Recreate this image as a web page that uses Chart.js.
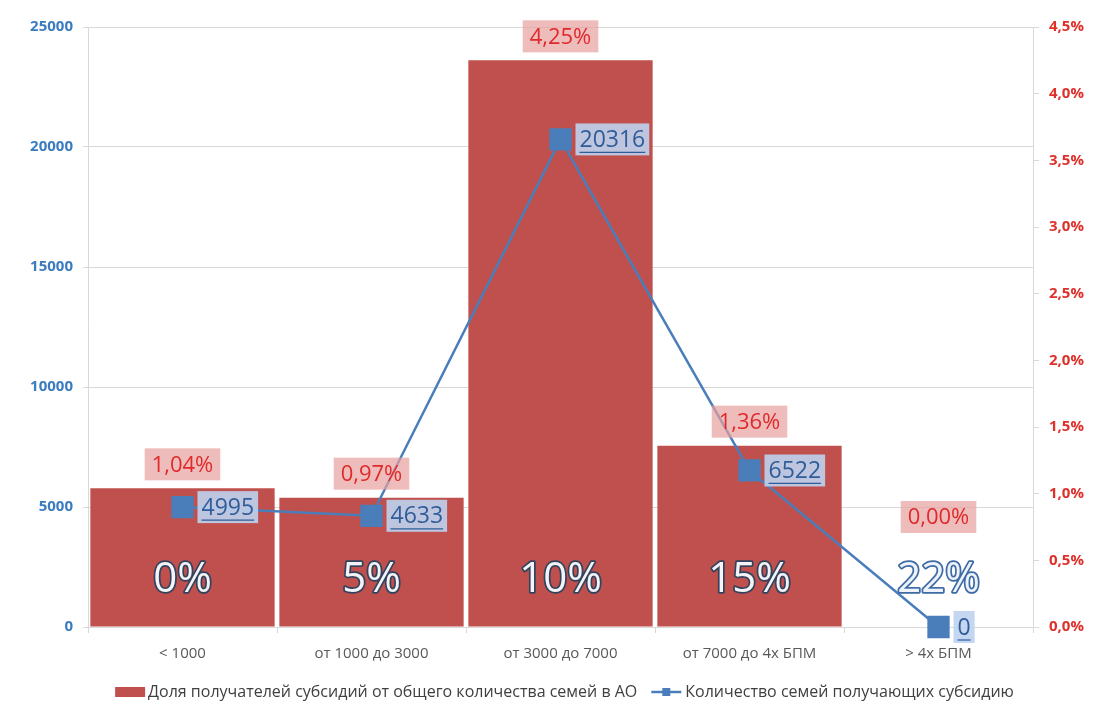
<!DOCTYPE html>
<html>
<head>
<meta charset="utf-8">
<script src="https://cdn.jsdelivr.net/npm/chart.js@4"></script>
<style>
  html, body { margin: 0; padding: 0; background: #fff; }
</style>
</head>
<body>
<canvas id="chart" width="1094" height="711"></canvas>
<script>
const categories = ["< 1000", "от 1000 до 3000", "от 3000 до 7000", "от 7000 до 4х БПМ", "> 4х БПМ"];
const shareValues = [1.04, 0.97, 4.25, 1.36, 0.0];
const familyCounts = [4995, 4633, 20316, 6522, 0];
const rateLabels = ["0%", "5%", "10%", "15%", "22%"];
const shareName = "Доля получателей субсидий от общего количества семей в АО";
const countName = "Количество семей получающих субсидию";

const FONT = '"Open Sans", "Noto Sans", sans-serif';
const BAR_RED = "#c0504d";
const LINE_BLUE = "#4a7ebb";

const fmtPct = (v, d) => v.toFixed(d).replace(".", ",") + "%";

function boxLabel(ctx, text, x, y, align, size, padX, bg, color, underline) {
  ctx.font = size + "px " + FONT;
  const w = ctx.measureText(text).width;
  const bw = w + padX * 2, bh = 32;
  const left = align === "center" ? x - bw / 2 : x;
  ctx.fillStyle = bg;
  ctx.fillRect(left, y - bh / 2, bw, bh);
  ctx.fillStyle = color;
  ctx.textAlign = "left";
  ctx.textBaseline = "middle";
  ctx.fillText(text, left + padX, y + 1);
  if (underline) {
    ctx.strokeStyle = color;
    ctx.lineWidth = 1.2;
    ctx.beginPath();
    ctx.moveTo(left + padX, y + 13);
    ctx.lineTo(left + padX + w, y + 13);
    ctx.stroke();
  }
}

const labelPlugin = {
  id: "valueLabels",
  afterDatasetsDraw(chart) {
    const ctx = chart.ctx;
    const area = chart.chartArea;
    const bars = chart.getDatasetMeta(1).data;
    const pts = chart.getDatasetMeta(0).data;
    ctx.save();

    // big rate labels inside the bars
    bars.forEach((bar, i) => {
      const empty = bar.base - bar.y < 60;
      ctx.font = "42px " + FONT;
      ctx.textAlign = "center";
      ctx.textBaseline = "middle";
      ctx.lineJoin = "round";
      ctx.lineWidth = 3.5;
      ctx.strokeStyle = empty ? "#3d6ba6" : "#33435e";
      ctx.strokeText(rateLabels[i], bar.x, area.bottom - 47);
      ctx.fillStyle = empty ? "#eef3fa" : "#f4f4f8";
      ctx.fillText(rateLabels[i], bar.x, area.bottom - 47);
    });

    // share labels above bars
    bars.forEach((bar, i) => {
      const y = Math.min(bar.y - 24, area.bottom - 110);
      boxLabel(ctx, fmtPct(shareValues[i], 2), bar.x, y, "center", 22, 7,
        "rgba(232,160,160,0.7)", "#e02a2a", false);
    });

    // count labels right of points
    pts.forEach((p, i) => {
      boxLabel(ctx, String(familyCounts[i]), p.x + 15, p.y, "left", 23, 4,
        "rgba(190,210,238,0.9)", "#2f5d9a", true);
    });
    ctx.restore();
  },
  afterDraw(chart) {
    const ctx = chart.ctx;
    const area = chart.chartArea;
    const y = 692;
    ctx.save();
    ctx.font = "16px " + FONT;
    const w1 = ctx.measureText(shareName).width;
    const w2 = ctx.measureText(countName).width;
    const total = 30 + 3 + w1 + 14 + 30 + 4 + w2;
    let x = (area.left + area.right) / 2 + 4 - total / 2;
    ctx.fillStyle = BAR_RED;
    ctx.fillRect(x, y - 5, 30, 10);
    x += 33;
    ctx.fillStyle = "#404040";
    ctx.textAlign = "left";
    ctx.textBaseline = "middle";
    ctx.fillText(shareName, x, y);
    x += w1 + 14;
    ctx.strokeStyle = LINE_BLUE;
    ctx.lineWidth = 2.5;
    ctx.beginPath();
    ctx.moveTo(x, y);
    ctx.lineTo(x + 30, y);
    ctx.stroke();
    ctx.fillStyle = LINE_BLUE;
    ctx.fillRect(x + 11, y - 4, 8, 8);
    x += 34;
    ctx.fillStyle = "#404040";
    ctx.fillText(countName, x, y);
    ctx.restore();
  }
};

new Chart(document.getElementById("chart").getContext("2d"), {
  data: {
    labels: categories,
    datasets: [
      {
        type: "line",
        label: countName,
        data: familyCounts,
        yAxisID: "y",
        borderColor: LINE_BLUE,
        borderWidth: 2.5,
        backgroundColor: LINE_BLUE,
        pointStyle: "rect",
        pointRadius: 14,
        pointBackgroundColor: LINE_BLUE,
        pointBorderColor: LINE_BLUE,
        tension: 0,
        clip: false,
        order: 0,
      },
      {
        type: "bar",
        label: shareName,
        data: shareValues,
        yAxisID: "y1",
        backgroundColor: BAR_RED,
        barPercentage: 0.975,
        categoryPercentage: 1,
        order: 1,
      },
    ],
  },
  options: {
    responsive: false,
    animation: false,
    layout: { padding: { top: 27, bottom: 36, left: 0, right: 0 } },
    plugins: {
      legend: { display: false },
      tooltip: { enabled: false },
    },
    scales: {
      x: {
        grid: { offset: true, drawOnChartArea: false, tickLength: 6, color: "#d9d9d9" },
        border: { color: "#d9d9d9" },
        ticks: { color: "#595959", font: { size: 15, family: FONT }, padding: 12 },
        afterFit(s) { s.height = 48; },
      },
      y: {
        position: "left",
        min: 0,
        max: 25000,
        ticks: {
          stepSize: 5000,
          color: "#3a7cc0",
          font: { size: 15, weight: "bold", family: FONT },
          padding: 10,
          callback: (v) => String(v),
        },
        grid: { color: "#d9d9d9", tickLength: 5 },
        border: { color: "#d9d9d9" },
        afterFit(s) { s.width = 88; },
      },
      y1: {
        position: "right",
        min: 0,
        max: 4.5,
        ticks: {
          stepSize: 0.5,
          color: "#e0302a",
          font: { size: 15, weight: "bold", family: FONT },
          padding: 10,
          callback: (v) => fmtPct(v, 1),
        },
        grid: { drawOnChartArea: false, tickLength: 6, color: "#d9d9d9" },
        border: { color: "#d9d9d9" },
        afterFit(s) { s.width = 61; },
      },
    },
  },
  plugins: [labelPlugin],
});
</script>
</body>
</html>
